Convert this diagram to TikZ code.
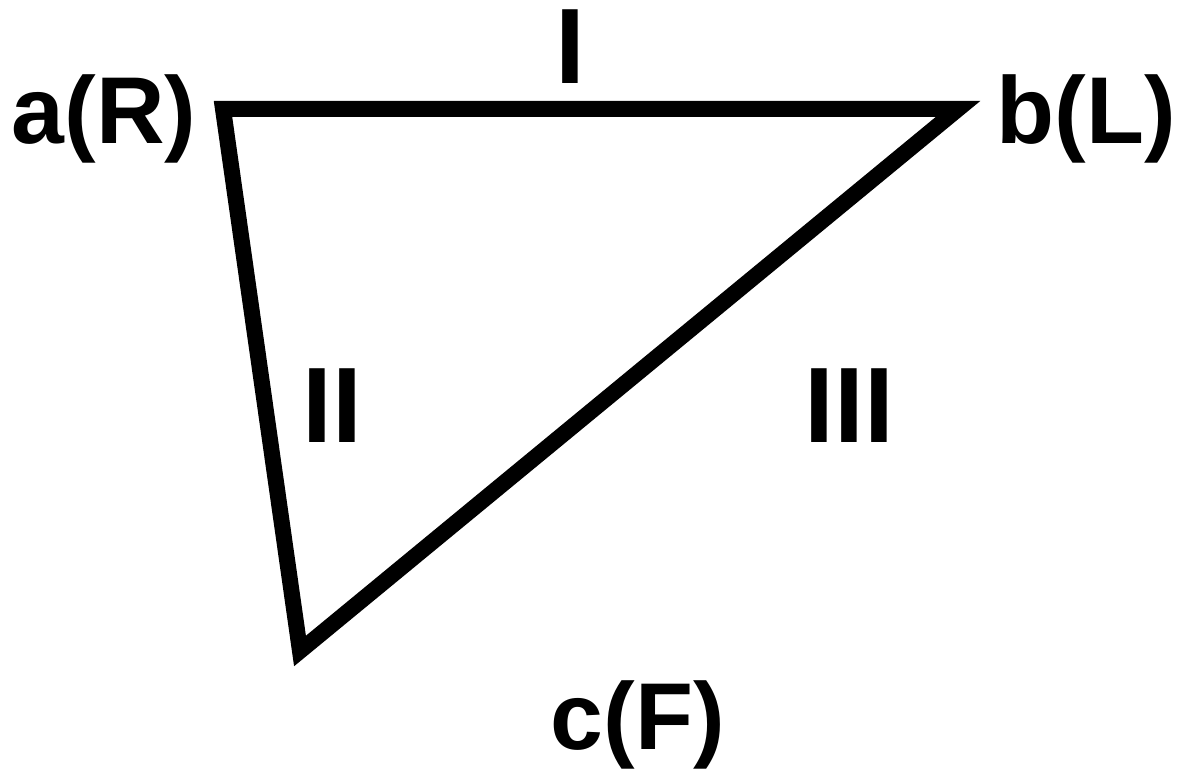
\documentclass[tikz,border=0pt]{standalone}
\usepackage{fontspec}
\setmainfont{Liberation Sans}
\usetikzlibrary{positioning}

\begin{document}
\begin{tikzpicture}[
  x=0.01cm, y=-0.01cm,
  edgeLine/.style ={draw=black, line width=0.16cm, line join=miter},
  vLabel/.style   ={font=\fontsize{27}{30}\selectfont\bfseries, inner sep=0pt},
  sLabel/.style   ={font=\fontsize{30.5}{34}\selectfont\bfseries, inner sep=0pt},
]
% canvas in pixel units of the reference
\useasboundingbox (0,0) rectangle (1178,774);

% corners of the triangle
\coordinate (a) at (223,109);
\coordinate (b) at (958,109);
\coordinate (c) at (300,651);
\draw[edgeLine] (a) -- (b) -- (c) -- cycle;

% corner labels
\node[vLabel] (aLbl) at (104,119) {a(R)};
\node[vLabel] (bLbl) at (1086,119) {b(L)};
\node[vLabel] (cLbl) at (638,725) {c(F)};

% side labels
\node[sLabel] (sideI)   at (570,46.5)  {I};
\node[sLabel] (sideII)  at (332,405.5) {II};
\node[sLabel] (sideIII) at (849.5,405.5) {III};
\end{tikzpicture}
\end{document}
